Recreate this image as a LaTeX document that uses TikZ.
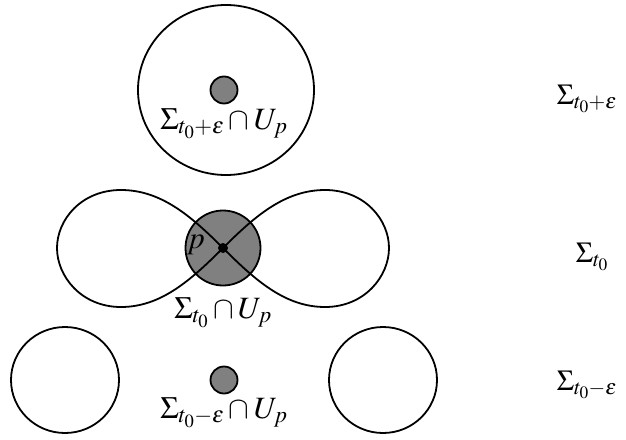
\documentclass[tikz,border=0pt]{standalone}
\usepackage{mathptmx}
\begin{document}
\begin{tikzpicture}[x=1pt,y=-1pt,line width=1.8pt,
  lbl/.style={font=\fontsize{31}{36}\selectfont,inner sep=0pt},
  rlbl/.style={font=\fontsize{29}{34}\selectfont,inner sep=0pt},
  disk/.style={draw=black,fill=gray}]
\useasboundingbox (0,0) rectangle (626,439);
% top
\draw (226,90) ellipse [x radius=88pt, y radius=85pt];
\draw[disk] (224,90) circle [radius=13.5pt];
\node[lbl,anchor=base] (ltop) at (224,129) {$\Sigma_{t_0+\epsilon}\cap U_p$};
% middle
\draw[disk] (223,248) circle [radius=37.5pt];
\draw (223,248) .. controls (255,216) and (285,190) .. (325,190)
  .. controls (365,190) and (389,220) .. (389,248)
  .. controls (389,276) and (365,307) .. (325,307)
  .. controls (285,307) and (255,280) .. (223,248)
  .. controls (191,216) and (161,190) .. (121,190)
  .. controls (81,190) and (57,220) .. (57,248)
  .. controls (57,276) and (81,307) .. (121,307)
  .. controls (161,307) and (191,280) .. (223,248);
\fill (223,248) circle [radius=5pt];
\node[lbl] (lp) at (196,245) {$p$};
\node[lbl,anchor=base] (lmid) at (223,318) {$\Sigma_{t_0}\cap U_p$};
% bottom
\draw (65,380) ellipse [x radius=54pt, y radius=53pt];
\draw (383,380) ellipse [x radius=54pt, y radius=53pt];
\draw[disk] (224,380) circle [radius=13.5pt];
\node[lbl,anchor=base] (lbot) at (224,418) {$\Sigma_{t_0-\epsilon}\cap U_p$};
% right labels
\node[rlbl,anchor=base west] (r1) at (556,104) {$\Sigma_{t_0+\epsilon}$};
\node[rlbl,anchor=base west] (r2) at (575,262) {$\Sigma_{t_0}$};
\node[rlbl,anchor=base west] (r3) at (556,390) {$\Sigma_{t_0-\epsilon}$};
\end{tikzpicture}
\end{document}
